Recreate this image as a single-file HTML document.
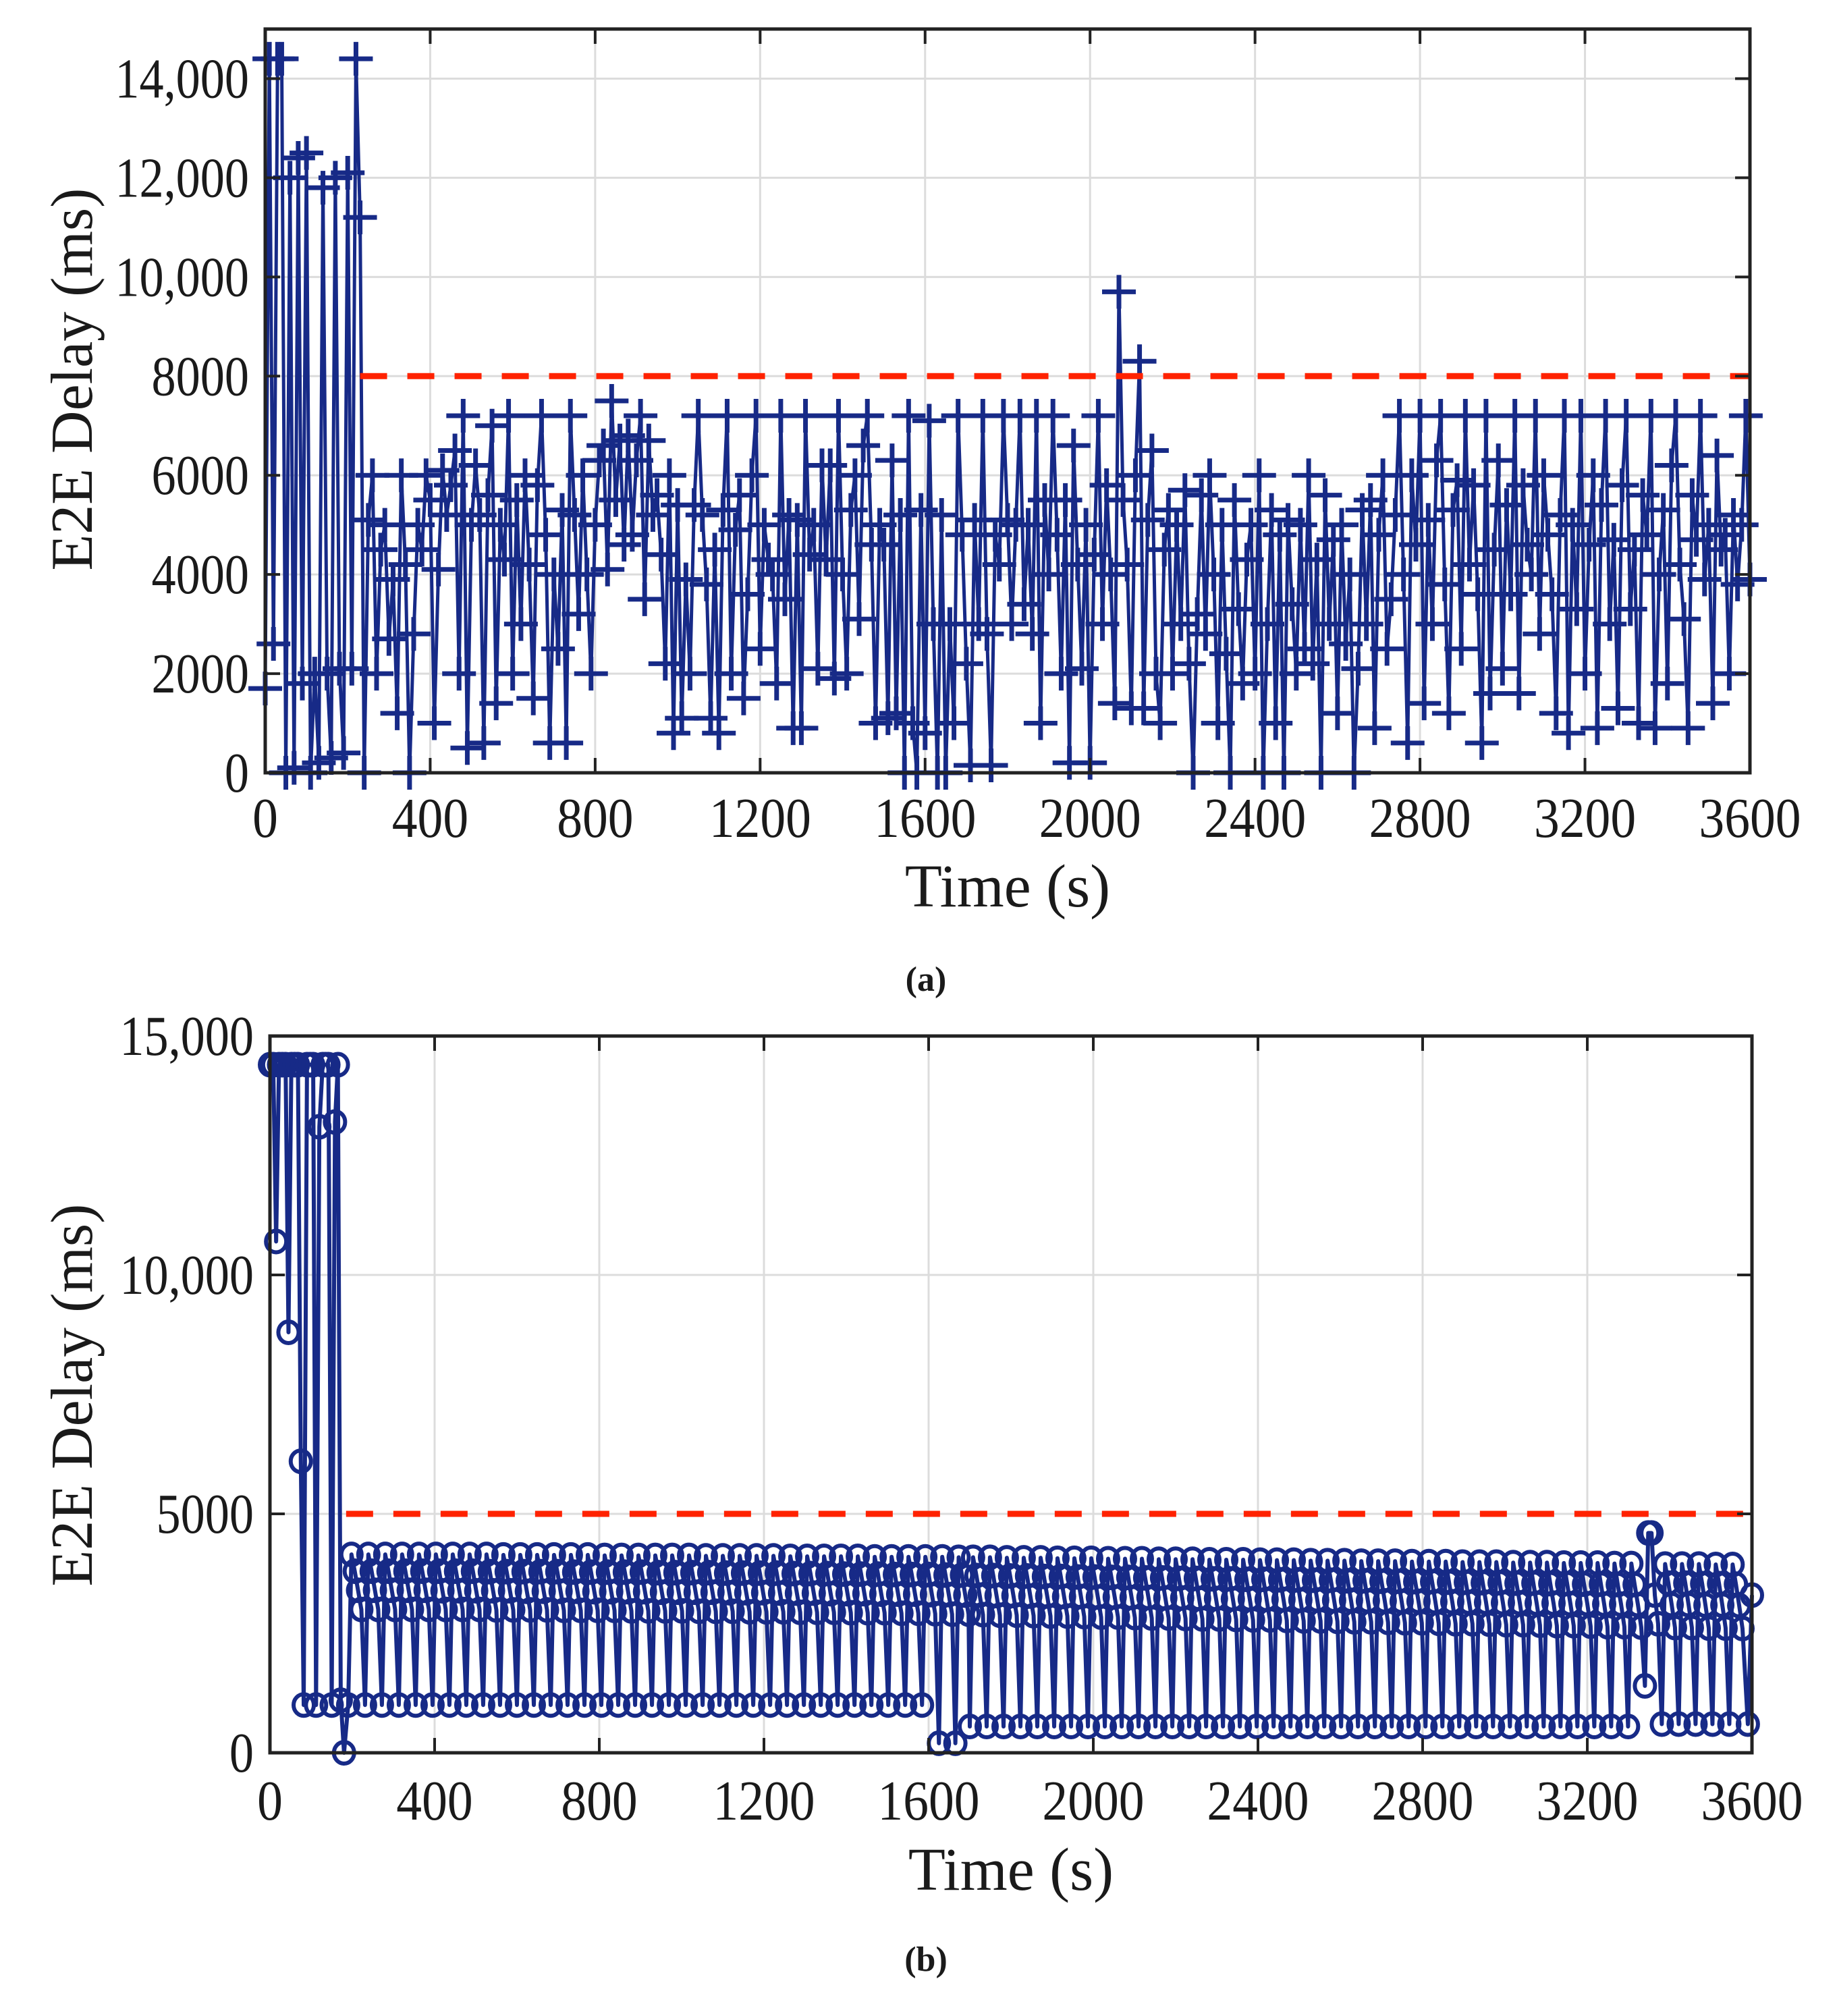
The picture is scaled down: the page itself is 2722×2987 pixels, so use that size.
<!DOCTYPE html>
<html><head><meta charset="utf-8"><style>
html,body{margin:0;padding:0;background:#fff;}
svg{display:block;}
text{font-family:"Liberation Serif",serif;fill:#1a1a1a;}
</style></head><body>
<svg id="fig" width="2722" height="2987" viewBox="0 0 2722 2987" xmlns="http://www.w3.org/2000/svg">
<rect width="2722" height="2987" fill="#fff"/>
<g id="pa"></g>
<g id="pb"></g>
</svg>
<script>
const xTicks = [0,400,800,1200,1600,2000,2400,2800,3200,3600];
const yTicksA = [0,2000,4000,6000,8000,10000,12000,14000];
const yLabelsA = ["0","2000","4000","6000","8000","10,000","12,000","14,000"];
const yTicksB = [0,5000,10000,15000];
const yLabelsB = ["0","5000","10,000","15,000"];
const thresholdA = 8000;
const thresholdB = 5000;
const thrStartA = 230;
const thrStartB = 185;
const seriesAEarly = [1700,14400,2600,14400,14400,0,12000,100,12400,1800,12500,0,2000,200,11800,2000,300,12000,2100,400,12100,2100,14400,11200,0];
const seriesARest = [5100,6000,2000,4500,5000,2700,3900,1200,6000,4200,
0,2800,5000,4500,6000,5500,1000,4100,6100,5200,
5800,6500,2000,7200,500,5000,6200,5200,600,5600,
7000,1400,5000,4300,7200,2000,5500,3000,6000,4200,
1500,5800,7200,4800,600,4000,2500,5300,600,7200,
5200,3200,6000,4000,2000,5000,6300,6600,4100,7500,
5500,6700,4600,6800,4800,6300,7200,3500,6700,5200,
5600,4400,2200,6000,800,5400,1100,3900,2000,5400,
7200,5200,3800,1100,4500,800,5300,7200,2000,4900,
5600,1500,3600,6000,7200,2500,5000,4300,4000,1800,
7200,3500,5200,900,5100,900,7200,4400,5000,2100,
6200,4300,6200,1900,7200,4000,2000,5300,6000,3100,
6600,7200,4600,1000,5000,4600,1100,6300,1200,5200,
0,7200,1000,0,5300,800,7100,3000,0,5200,
0,3000,1000,7200,4800,2200,150,5100,3000,7200,
2800,150,4800,4200,7200,5100,3000,5000,7200,3400,
5000,2800,7200,1000,5500,4000,7200,4800,2000,5500,
200,6600,4200,2100,5000,200,4400,7200,3000,5800,
4000,1400,9700,5500,4200,1300,6000,8300,1300,5100,
6500,2000,1000,4500,5300,2000,5000,3000,5700,2200,
0,3200,5600,2800,6000,4000,1000,5000,2400,0,
5500,3300,1800,4300,5000,2000,6000,0,3000,5300,
1000,4800,0,5100,3400,2000,5000,2500,6000,2200,
4300,0,5600,3000,4700,1200,5000,2600,4000,0,
2100,5300,3000,5500,900,4800,6000,2500,3500,5200,
7200,4000,600,6000,4600,7200,1400,5100,3000,6300,
7200,3800,1200,5300,5900,2500,7200,4200,5800,3600,
600,7200,1600,4500,6300,2100,5400,3600,7200,1600,
5800,4600,4000,7200,2800,6000,4800,3600,1200,5200,
7200,800,5000,3300,7200,2000,4600,6000,900,5400,
7200,3000,4700,1300,5800,7200,3300,4500,1000,5600,
4800,7200,900,4000,5300,1800,6200,7200,4200,3100,
900,5600,4700,7200,3900,5000,1400,6400,4500,4800,
2000,5200,3800,5000,7200,3900];
const stepA = 10;
const earlyTimesB = [0,8,15,22,30,38,45,52,60,68,75,82,90,98,105,112,120,128,135,142,150,158,165,172,180];
const earlyValsB = [14400,14400,10700,14400,14400,14400,8800,14400,14400,14400,6100,1000,14400,14400,14400,1000,13100,14400,14400,14400,1000,13200,14400,1100,0];
const cycleRaw = [
[190,1000,4150,3800,3400,3000],[231,1000,4150,3800,3400,3000],[272,1000,4150,3800,3400,3000],[313,1000,4150,3800,3400,3000],[354,1000,4150,3800,3400,3000],
[395,1000,4150,3800,3390,3000],[436,1000,4150,3800,3390,3000],[477,1000,4150,3800,3390,3000],[518,1000,4150,3790,3390,2990],[559,1000,4140,3790,3390,2990],
[600,1000,4140,3790,3380,2990],[641,1000,4140,3790,3380,2990],[682,1000,4140,3790,3380,2980],[723,1000,4140,3780,3380,2980],[764,1000,4140,3780,3370,2980],
[805,1000,4130,3780,3370,2980],[846,1000,4130,3780,3370,2970],[887,1000,4130,3780,3370,2970],[928,1000,4130,3770,3360,2970],[969,1000,4130,3770,3360,2970],
[1010,1000,4130,3770,3360,2960],[1051,1000,4120,3770,3360,2960],[1092,1000,4120,3760,3350,2960],[1133,1000,4120,3760,3350,2950],[1174,1000,4120,3760,3350,2950],
[1215,1000,4120,3760,3340,2950],[1256,1000,4110,3750,3340,2940],[1297,1000,4110,3750,3340,2940],[1338,1000,4110,3750,3330,2940],[1379,1000,4110,3740,3330,2930],
[1420,1000,4110,3740,3330,2930],[1461,1000,4100,3740,3320,2930],[1502,1000,4100,3730,3320,2920],[1543,1000,4100,3730,3320,2920],[1584,1000,4100,3730,3310,2910],
[1625,200,4100,3720,3310,2900],[1665,200,4090,3720,3300,2900],
[1700,550,4090,3710,3300,2890],[1741,550,4090,3710,3290,2880],[1782,550,4080,3700,3290,2880],[1823,550,4080,3700,3280,2870],[1864,550,4080,3690,3280,2860],
[1905,550,4070,3690,3270,2860],[1946,550,4070,3680,3270,2850],[1987,550,4070,3680,3260,2840],[2028,550,4060,3670,3260,2840],[2069,550,4060,3670,3250,2830],
[2110,550,4060,3660,3250,2820],[2151,550,4050,3660,3240,2820],[2192,550,4050,3650,3240,2810],[2233,550,4050,3650,3230,2800],[2274,550,4040,3640,3230,2800],
[2315,550,4040,3640,3220,2790],[2356,550,4040,3630,3220,2780],[2397,550,4030,3630,3210,2780],[2438,550,4030,3620,3210,2770],[2479,550,4030,3620,3200,2760],
[2520,550,4020,3610,3200,2760],[2561,550,4020,3610,3190,2750],[2602,550,4020,3600,3190,2740],[2643,550,4010,3600,3180,2740],[2684,550,4010,3590,3180,2730],
[2725,550,4010,3590,3170,2720],[2766,550,4000,3580,3170,2720],[2807,550,4000,3580,3160,2710],[2848,550,4000,3570,3160,2700],[2889,550,3990,3570,3150,2700],
[2930,550,3990,3560,3150,2690],[2971,550,3990,3560,3140,2680],[3012,550,3980,3550,3140,2680],[3053,550,3980,3550,3130,2670],[3094,550,3980,3540,3130,2660],
[3135,550,3970,3540,3120,2660],[3176,550,3970,3530,3120,2650],[3217,550,3970,3530,3110,2640],[3258,550,3960,3520,3110,2640],[3299,550,3960,3520,3100,2630],
[3340,1400,4600,4600,3300,2700],
[3381,600,3950,3550,3100,2620],[3422,600,3950,3550,3100,2620],[3463,600,3950,3540,3090,2610],[3504,600,3940,3540,3090,2610],[3545,600,3940,3530,3080,2600]
];
const endTimesB = [3590,3600];
const endValsB = [600,3300];

const NS="http://www.w3.org/2000/svg";
function mk(parent,tag,attrs){const e=document.createElementNS(NS,tag);for(const k in attrs)e.setAttribute(k,attrs[k]);parent.appendChild(e);return e;}

function drawGrid(g,box,yTicks,ymax){
  const sx=t=>box.l+(t/3600)*(box.r-box.l);
  const sy=v=>box.b-(v/ymax)*(box.b-box.t);
  const grid=mk(g,'g',{});
  
  
  xTicks.forEach(t=>{ if(t>0&&t<3600) mk(grid,'line',{x1:sx(t),x2:sx(t),y1:box.t,y2:box.b,stroke:'#dcdcdc','stroke-width':3}); });
  yTicks.forEach(v=>{ if(v>0&&v<ymax) mk(grid,'line',{x1:box.l,x2:box.r,y1:sy(v),y2:sy(v),stroke:'#dcdcdc','stroke-width':3}); });
  return {sx,sy};
}
function drawFrame(g,box,yTicks,yLabels,sx,sy,cap,xlabY,capY,tickY,ylabY){
  const fr=mk(g,'g',{});
  
  
  mk(fr,'rect',{x:box.l,y:box.t,width:box.r-box.l,height:box.b-box.t,fill:'none',stroke:'#222','stroke-width':5});
  xTicks.forEach(t=>{
    mk(fr,'line',{x1:sx(t),x2:sx(t),y1:box.b,y2:box.b-22,stroke:'#222','stroke-width':4});
    mk(fr,'line',{x1:sx(t),x2:sx(t),y1:box.t,y2:box.t+22,stroke:'#222','stroke-width':4});
    const tx=mk(g,'text',{x:0,y:0,'font-size':84,'text-anchor':'middle',transform:`translate(${sx(t)},${tickY}) scale(0.9,1)`});
    
    
    tx.textContent=String(t);
  });
  yTicks.forEach((v,i)=>{
    mk(fr,'line',{x1:box.l,x2:box.l+22,y1:sy(v),y2:sy(v),stroke:'#222','stroke-width':4});
    mk(fr,'line',{x1:box.r,x2:box.r-22,y1:sy(v),y2:sy(v),stroke:'#222','stroke-width':4});
    const tx=mk(g,'text',{x:0,y:0,'font-size':84,'text-anchor':'end',transform:`translate(${box.l-24},${sy(v)+28}) scale(0.86,1)`});
    
    
    tx.textContent=yLabels[i];
  });
  const xl=mk(g,'text',{x:(box.l+box.r)/2,y:xlabY,'font-size':90,'text-anchor':'middle'});
  
  
  xl.textContent='Time (s)';
  const yl=mk(g,'text',{x:0,y:0,'font-size':88,'text-anchor':'middle',transform:`translate(136,${ylabY}) rotate(-90)`});
  
  
  yl.textContent='E2E Delay (ms)';
  const c=mk(g,'text',{x:1372,y:capY,'font-size':52,'text-anchor':'middle','font-weight':'bold'});
  
  
  c.textContent=cap;
}

(function(){
  const g=document.getElementById('pa');
  const box={l:393,r:2593,t:43,b:1145};
  const ymax=15000;
  const {sx,sy}=drawGrid(g,box,yTicksA,ymax);
  const vals=seriesAEarly.concat(seriesARest);
  const pts=vals.map((v,i)=>[sx(Math.min(i*stepA,3600)),sy(v)]);
  const line=mk(g,'polyline',{points:pts.map(p=>p.join(',')).join(' '),fill:'none',stroke:'#172a87','stroke-width':5,'stroke-linejoin':'round'});
  
  
  const mg=mk(g,'g',{stroke:'#172a87','stroke-width':7});
  
  
  pts.forEach(p=>{
    mk(mg,'line',{x1:p[0]-25,x2:p[0]+25,y1:p[1],y2:p[1]});
    mk(mg,'line',{x1:p[0],x2:p[0],y1:p[1]-25,y2:p[1]+25});
  });
  const th=mk(g,'line',{x1:sx(thrStartA),x2:box.r,y1:sy(thresholdA),y2:sy(thresholdA),stroke:'#ff2200','stroke-width':9,'stroke-dasharray':'40 30'});
  
  
  drawFrame(g,box,yTicksA,yLabelsA,sx,sy,'(a)',1343,1468,1240,562);
})();

(function(){
  const g=document.getElementById('pb');
  const box={l:400,r:2596,t:1535,b:2597};
  const ymax=15000;
  const {sx,sy}=drawGrid(g,box,yTicksB,ymax);
  const times=earlyTimesB.slice(), vals=earlyValsB.slice();
  cycleRaw.forEach(c=>{
    const t0=c[0];
    [c[1],c[2],c[3],c[4],c[5]].forEach((v,k)=>{times.push(t0+k*8);vals.push(v);});
  });
  endTimesB.forEach((t,i)=>{times.push(t);vals.push(endValsB[i]);});
  const pts=times.map((t,i)=>[sx(t),sy(vals[i])]);
  const line=mk(g,'polyline',{points:pts.map(p=>p.join(',')).join(' '),fill:'none',stroke:'#172a87','stroke-width':6,'stroke-linejoin':'round'});
  
  
  const mg=mk(g,'g',{stroke:'#172a87','stroke-width':6,fill:'none'});
  
  
  pts.forEach(p=>{ mk(mg,'ellipse',{cx:p[0],cy:p[1],rx:15,ry:16}); });
  const th=mk(g,'line',{x1:sx(thrStartB),x2:box.r,y1:sy(thresholdB),y2:sy(thresholdB),stroke:'#ff2200','stroke-width':9,'stroke-dasharray':'40 30'});
  
  
  drawFrame(g,box,yTicksB,yLabelsB,sx,sy,'(b)',2800,2920,2696,2067);
})();
</script>
</body></html>
